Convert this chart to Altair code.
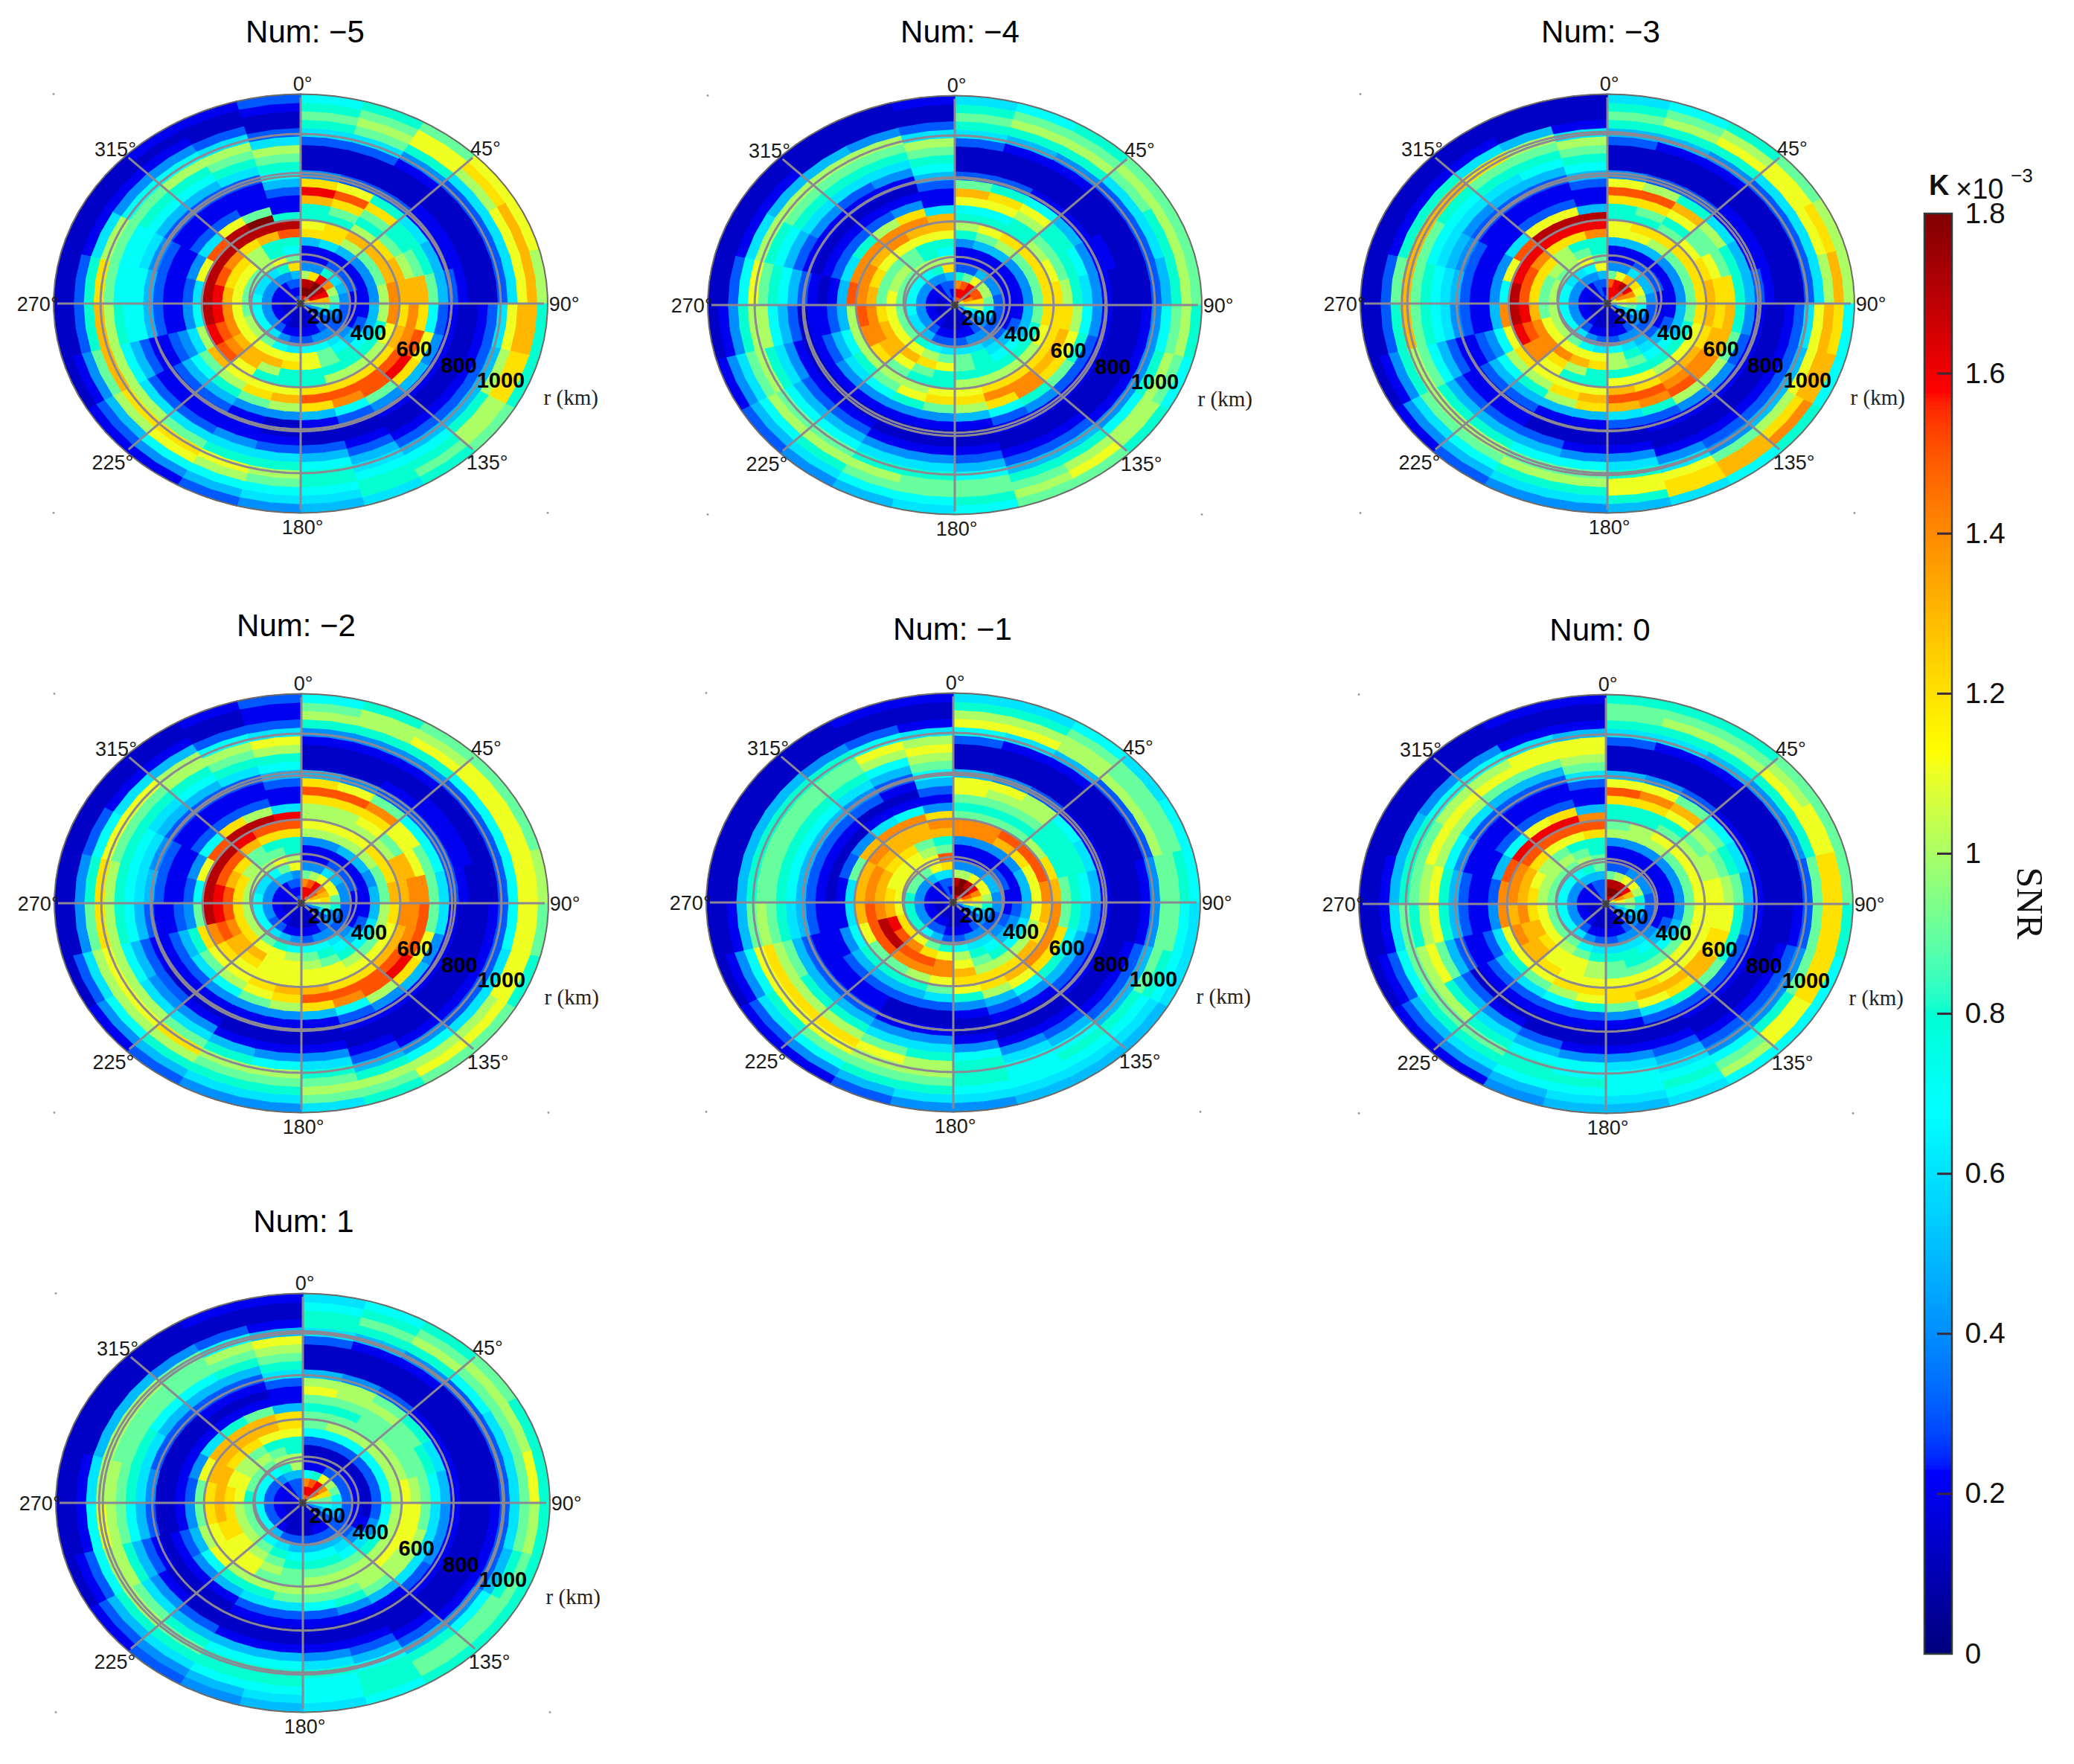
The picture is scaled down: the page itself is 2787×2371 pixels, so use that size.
import numpy as np
import pandas as pd
import altair as alt

alt.data_transformers.disable_max_rows()

# SNR samples, unit 0.1e-3, written as one base-19 digit per ring
# (0-9, a=10 ... i=18; digit 1 stands for the deep blue read as about 0.13).
# One row per 15 degree sector, from 0 degrees clockwise; each row holds 25 rings of 40 km,
# from the centre outwards.
NUM_M5 = ["giha 4225 cb88 dgc4 1113 68987", "gihc 4226 cc89 cfb3 1113 69a98", "fiig 8325 ada8 9c83 1112 48bb9", "fhhe 6324 9dc9 8862 2111 36acb",
          "egga 5324 9dda 9852 2111 36bdb", "add9 4224 aedd d953 2111 36bda", "6996 3225 aece c732 1123 6bdd8", "4454 3235 8bde fb42 1123 5acc8",
          "2233 3457 8acf gc52 1123 58aa9", "2223 4678 8acf f942 1123 57898", "1122 4799 8acf e731 1235 67886", "1112 37bb 88cf c521 1357 88765",
          "1112 36bc 88bd a411 2368 a9764", "1112 47bd a8bc 9422 2468 ba753", "2123 69bd dbba 8532 2369 cb742", "2124 7abd efd9 7532 236a ca532",
          "2124 7abe fga6 4322 357a d9421", "2124 79be gh74 2235 778a d8311", "2124 79bd gh63 2235 7779 c8311", "2224 69bc fhb4 2234 6779 a6211",
          "2224 69bc ehf6 3223 5789 74211", "2224 6aaa chhb 3223 578a 74212", "3234 8b88 dhi9 2223 689a 63112", "3235 c978 fh82 2357 89a6 31123"]
NUM_M4 = ["fge8 3224 8a87 bd93 1113 68986", "fgf9 3225 9b87 bc83 1112 58a97", "fggb 5225 ac88 ab72 1112 48a98", "egfa 4224 9ca9 8852 1111 369a9",
          "cefa 4224 9cb9 8742 2111 368a9", "acc9 3224 9cca 8642 1111 358a9", "7aa7 3225 9ccc a742 1112 479a8", "5766 3235 8bcd b832 1112 48a97",
          "2344 3357 8acd c932 1112 47aa8", "2233 4567 8ace e842 1123 58ab9", "1122 4688 8ace c732 1123 589a9", "1112 3699 8abc a521 1235 79987",
          "1112 369b 88bc 9421 1246 89976", "1112 37ac 98ab 8421 1246 8a975", "1123 58bd b9a9 7421 2357 9a864", "2124 69bd dca8 6421 2357 9a753",
          "2124 69bd eea7 5321 2468 a9642", "2124 79bc efa5 3221 357a a8421", "2124 79b9 def5 2123 5789 b7311", "2124 79a9 cee6 3212 3578 a6211",
          "2224 79a9 bde8 3212 4689 a5211", "2224 7a99 beea 3212 3689 a5111", "2334 8a88 bdec 4212 4689 a4111", "3235 ca78 bdd6 2235 789a 63112"]
NUM_M3 = ["ggf9 4225 bb88 cfb4 1113 58986", "gggb 4225 bc89 cfa3 1112 58a97", "fghd 6325 ac98 bd83 1112 48ba8", "efgc 5324 9cb9 9a62 2111 36bb9",
          "ceeb 5324 9ccb 9852 2111 36bca", "abca 4224 9cdc c853 2111 36ada", "6a97 3225 9cdc d842 1123 6bdc7", "4565 3235 8bcd d932 1123 5bdd7",
          "2234 3357 8bde ea42 1123 5ace8", "2223 4567 8ade fa42 1123 49dd7", "1122 4689 8bcf e832 1124 6bcc6", "1112 37aa 8bdf d631 1246 8bb85",
          "1112 36bc 88bd c521 1247 9a864", "1112 47bd a8bc a521 1357 9a864", "2123 69be cbba 8532 2358 a9753", "2124 7abe eeca 7532 2358 a9642",
          "2124 7abe fgb7 4322 3579 a8421", "2124 7a9d ghe5 2234 6789 d8311", "2124 7a9c fh74 2235 6789 d9311", "2124 7a9c fgb4 2234 5679 d8211",
          "2224 69ac egf6 2223 4678 d8211", "2224 6aaa cghb 3223 5689 c6211", "2334 7b98 cghb 3223 5789 a5111", "3235 b988 egh5 2235 789a 62111"]
NUM_M2 = ["gge9 4224 abaa cfc5 1112 48a97", "ggfa 4224 abaa cfb4 1112 48aa8", "fggb 6325 abab ce93 2112 48ba9", "efeb 5325 aca9 bb73 2211 37bb9",
          "cddb 4324 9cdd b973 2211 37bb9", "abc9 4225 9dde e963 2111 37bba", "6998 3225 acee f962 1112 37bb9", "4464 3236 abde fb42 1112 36bb8",
          "2234 3457 9bdf gc52 1112 36ab9", "1223 4678 abcf fa42 1112 47ab9", "1112 4789 bbcf e732 1123 58a98", "1112 379a bbdf c521 1246 89a96",
          "1112 47ab bbdc a421 1247 a9864", "1112 58bb bbcb 9421 1258 a9864", "2123 69bd cbba 7421 2469 ca853", "1123 7acd dcb9 6321 346a ba742",
          "1124 7ace fec8 5322 357a ba631", "2124 7acf gh94 3223 578a c9411", "2124 7acf gh73 2235 678a c8411", "2224 6acd fhb4 2234 6789 b7311",
          "2224 6aac fhf7 3223 5689 b6211", "2225 7a99 dghc 3223 578a a5211", "3235 9b98 cfha 3223 689a 73112", "3234 ba88 cfg6 2235 78ab 63223"]
NUM_M1 = ["hiha 4224 ee98 9bb5 1113 7ba86", "hiia 4224 ee98 9ab4 1112 6ba86", "gihb 4224 df98 9aa3 1112 5aa97", "fhgb 5324 cfa8 8872 1111 3a996",
          "dfeb 5325 bfc8 8862 1111 3a997", "bdca 4225 bed9 8752 1112 49987", "7ba8 4235 bde9 8642 1112 49976", "4565 3346 acec 7532 1123 59876",
          "2234 3457 adec 8532 1123 58765", "2223 4678 acdb 7421 1235 78765", "1122 4689 acca 5321 1246 77765", "1112 37ab dcb8 4211 2478 88764",
          "1112 38be eb96 3112 468a a9864", "1123 59cf ea85 3112 469b a9853", "1123 7bef e985 3223 58ac b9742", "1124 8cfh f985 3223 58ac b8632",
          "2124 8cgh fb74 2223 59ac b7421", "2124 8bde fd62 2235 689a 95211", "2124 8bcd ed62 1235 7899 85111", "2224 9bbd ed93 1235 7899 85111",
          "2224 9bbc ded4 1235 7899 85111", "2225 9bbc dde6 2134 6899 84111", "3336 bba9 dde7 2123 57ab 73112", "3236 cf98 dec4 2357 9aba 62112"]
NUM_0 = ["hih9 3224 a988 cfb5 1113 68998", "hiha 3224 aa88 ceb4 1112 68a98", "gihb 4224 ab98 bd93 1112 58a98", "fhgb 4224 9ba9 a972 1111 48ba9",
         "ceda 4224 9baa 9862 1111 48bb9", "9ba8 3224 9bbb a952 1111 39cc9", "6896 3224 9bbb b842 1112 39cc8", "4565 3235 9bbc c832 1123 49cc7",
         "2334 3457 9bbd d932 1123 48bb7", "2223 4678 9bbd c832 1123 479a7", "1122 4688 9bcd b631 1235 67876", "1112 3689 9bcc 9421 1246 77765",
         "1112 368a abcb 8321 1247 78765", "1112 479b bbca 7321 1357 88754", "1123 69ab bcb9 6321 2468 98642", "1124 79bc ddb8 5321 358a 98532",
         "1124 79bd deb6 3223 59ba 97321", "1124 79bc ede4 2235 8ba8 96211", "1224 79ac dee3 2235 8ba9 85211", "2224 79ab def5 2224 7ab9 85111",
         "2224 79aa cfg7 3223 6aba 74111", "2225 79a9 bfgb 3223 59ba 74111", "3335 8a98 bfgc 3223 59bb 62112", "3335 9988 cfe5 2236 9abb 52112"]
NUM_1 = ["ege7 2113 7998 9ba5 1113 68876", "fgf8 2113 7a98 9aa4 1112 58987", "fggb 3113 7a99 9a93 1112 48a98", "efea 3213 7aa9 9982 1111 379a9",
         "bcc9 3213 7aa9 9862 1111 369a8", "8997 3213 7aba 9752 1111 369b8", "6776 3213 7abb 9642 1112 369a8", "4455 3224 7abb a642 1112 35898",
         "2233 3346 8aba a632 1112 47998", "1122 3567 9aaa 9521 1123 58998", "1112 3578 9aa9 8421 1235 78887", "1111 3578 9aa9 7321 1246 87776",
         "1111 3578 99a9 6321 1257 88765", "1111 3689 a9a8 6321 1257 88754", "1112 579a bba8 5211 1358 98643", "1123 79ab bbb7 4211 2469 a8532",
         "1123 79ac cba5 3212 358a a7321", "1123 79ac dc94 2113 579a b7211", "1123 78bc dc93 2114 689a a6211", "2223 79bb ddb4 2113 6899 a5111",
         "2223 79aa cdd6 2113 5799 a5111", "2224 79a9 cdd8 2123 5799 94111", "3335 8a98 bdd9 2123 589a 73112", "3335 aa88 bcc5 2236 89ab 52112"]

RING_STEP = 40
SECTOR_STEP = 15
GRID_RINGS = [200, 400, 610, 810]
SPOKES = [0, 45, 90, 135, 180, 225, 270, 315]
ANGLE_LABELS = [("0°", 8, 1044), ("45°", 748, 736), ("90°", 1067, -8), ("135°", 755, -765),
                ("180°", 8, -1072), ("225°", -761, -765), ("270°", -1064, -8), ("315°", -750, 731)]
RADIUS_LABELS = [("200", 99, -65), ("400", 274, -142), ("600", 460, -219), ("800", 640, -297), ("1000", 810, -370)]
CORNER_DOTS = [(-1000, 1000), (-1000, -1000), (1000, -1000)]
CBAR_TICKS = [0, 0.2, 0.4, 0.6, 0.8, 1, 1.2, 1.4, 1.6, 1.8]

# panel: title, rows, centre (page px), title centre and baseline (page px), doubled grid rings (r, dx, dy)
PANELS = [
    ("Num: \u22125", NUM_M5, (404, 408), (410, 57), [(215, 8, 20), (612, 0, 12)]),
    ("Num: \u22124", NUM_M4, (1283, 410), (1290, 57), [(215, 8, 15), (615, 0, -10)]),
    ("Num: \u22123", NUM_M3, (2160, 408), (2151, 57), [(210, 8, 20), (615, 5, 8), (820, -12, 0)]),
    ("Num: \u22122", NUM_M2, (405, 1214), (398, 855), [(215, 8, 20), (615, 8, 12)]),
    ("Num: \u22121", NUM_M1, (1281, 1213), (1280, 860), [(205, 0, 12), (615, 5, 5)]),
    ("Num: 0", NUM_0, (2158, 1215), (2150, 861), [(205, 3, 10)]),
    ("Num: 1", NUM_1, (407, 2020), (408, 1656), [(210, 15, 10), (820, -5, 0)]),
]
CELLS = [(8, 8, 872, 792), (880, 8, 880, 792), (1760, 8, 820, 792),
         (8, 800, 872, 810), (880, 800, 880, 810), (1760, 800, 820, 810),
         (8, 1610, 872, 753)]
KM_X = 1000 / 332
KM_Y = 1000 / 281.5

CS = alt.Scale(domain=[0, 0.225, 0.675, 1.125, 1.575, 1.8],
               range=["#00007f", "#0000ff", "#00ffff", "#ffff00", "#ff0000", "#7f0000"])
GRID = "#8b8893"


def polar(r, deg):
    t = np.radians(deg)
    return round(float(r * np.sin(t)), 1), round(float(r * np.cos(t)), 1)


def cell_rows(rows):
    out = []
    for k, row in enumerate(rows):
        digits = row.replace(" ", "")
        for i, ch in enumerate(digits):
            d = int(ch, 19)
            v = 0.13 if d == 1 else d / 10
            a0, a1 = k * SECTOR_STEP, (k + 1) * SECTOR_STEP
            r0, r1 = i * RING_STEP, (i + 1) * RING_STEP
            pts = [(r0, a0), (r0, (a0 + a1) / 2), (r0, a1), (r1, a1), (r1, (a0 + a1) / 2), (r1, a0), (r0, a0)]
            for n, (r, a) in enumerate(pts):
                x, y = polar(r, a)
                out.append({"c": k * 100 + i, "n": n, "x": x, "y": y, "v": v})
    return pd.DataFrame(out)


def ellipse_rows(rings):
    out = []
    for j, (r, dx, dy) in enumerate(rings):
        for n, a in enumerate(range(0, 364, 4)):
            x, y = polar(r, a)
            out.append({"c": j, "n": n, "x": x + dx, "y": y + dy})
    return pd.DataFrame(out)


def panel(spec, cell):
    title, rows, (cx, cy), (tx, ty), extra = spec
    ox, oy, w, h = cell
    xs = alt.Scale(domain=[(ox - cx) * KM_X, (ox + w - cx) * KM_X], nice=False, zero=False)
    ys = alt.Scale(domain=[(cy - oy - h) * KM_Y, (cy - oy) * KM_Y], nice=False, zero=False)
    X = alt.X("x:Q", scale=xs, axis=None)
    Y = alt.Y("y:Q", scale=ys, axis=None)

    cells = alt.Chart(cell_rows(rows)).mark_line(strokeWidth=1.2).encode(
        x=X, y=Y, detail="c:N", order=alt.Order("n:Q"),
        fill=alt.Fill("v:Q", scale=CS, legend=None),
        stroke=alt.Stroke("v:Q", scale=CS, legend=None))

    rim = alt.Chart(ellipse_rows([(1000, 0, 0)])).mark_line(stroke="#6f6a66", strokeWidth=2).encode(
        x=X, y=Y, order=alt.Order("n:Q"))
    rings = alt.Chart(ellipse_rows([(r, 0, 0) for r in GRID_RINGS] + extra)).mark_line(
        stroke=GRID, strokeWidth=3).encode(x=X, y=Y, detail="c:N", order=alt.Order("n:Q"))

    spoke_df = pd.DataFrame([{"x": 0, "y": 0, "x2": polar(985, a)[0], "y2": polar(985, a)[1]} for a in SPOKES])
    spokes = alt.Chart(spoke_df).mark_rule(stroke=GRID, strokeWidth=3).encode(x=X, y=Y, x2="x2:Q", y2="y2:Q")

    star = alt.Chart(pd.DataFrame({"x": [0], "y": [0]})).mark_point(
        shape="M-1,-1L1,1M-1,1L1,-1M0,-1L0,1M-1,0L1,0", size=90, stroke="#222222", strokeWidth=2.5, filled=False
    ).encode(x=X, y=Y)

    ang = alt.Chart(pd.DataFrame(ANGLE_LABELS, columns=["t", "x", "y"])).mark_text(
        font="Liberation Sans", fontSize=27, color="#1a1a1a", align="center", baseline="middle"
    ).encode(x=X, y=Y, text="t:N")
    rad = alt.Chart(pd.DataFrame(RADIUS_LABELS, columns=["t", "x", "y"])).mark_text(
        font="Liberation Sans", fontWeight="bold", fontSize=29, color="#000000", align="center", baseline="middle"
    ).encode(x=X, y=Y, text="t:N")
    unit = alt.Chart(pd.DataFrame({"t": ["r (km)"], "x": [1094], "y": [-452]})).mark_text(
        font="Liberation Serif", fontSize=29, color="#222222", align="center", baseline="middle"
    ).encode(x=X, y=Y, text="t:N")
    dots = alt.Chart(pd.DataFrame(CORNER_DOTS, columns=["x", "y"])).mark_point(
        filled=True, size=8, color="#999999", opacity=1).encode(x=X, y=Y)
    ttl = alt.Chart(pd.DataFrame({"t": [title]})).mark_text(
        font="Liberation Sans", fontSize=42, color="#000000", align="center", baseline="alphabetic"
    ).encode(x=alt.value(tx - ox), y=alt.value(ty - oy), text="t:N")

    return alt.layer(cells, rim, rings, spokes, star, ang, rad, unit, dots, ttl).properties(width=w, height=h)


charts = [panel(s, c) for s, c in zip(PANELS, CELLS)]

# colour bar: 1.8 at page y 287, 0 at page y 2223; the chart runs from page y 8 to 2363
COL_H = 2355
K = (2223 - 287) / 1.8
BAR_DOMAIN = [(2223 - 2363) / K, 1.8 + (287 - 8) / K]
bar_scale = alt.Scale(domain=BAR_DOMAIN, nice=False, zero=False)
bar_axis = alt.Axis(values=CBAR_TICKS, orient="right", domain=False, ticks=False, grid=False, title=None,
                    labelFont="Liberation Sans", labelFontSize=39, labelColor="#111111", labelPadding=17,
                    labelFlush=False, labelOverlap=False, format="~g")
BY = alt.Y("v:Q", scale=bar_scale, axis=bar_axis)
bar_df = pd.DataFrame({"v": [i * 0.005 for i in range(360)]})
bar_df["v2"] = (bar_df["v"] + 0.008).clip(upper=1.8)
bar = alt.Chart(bar_df).mark_rect().encode(
    x=alt.value(6), x2=alt.value(43), y=BY,
    y2=alt.Y2("v2"), fill=alt.Fill("v:Q", scale=CS, legend=None))
frame = alt.Chart(pd.DataFrame({"v": [0], "v2": [1.8]})).mark_rect(
    fill=None, stroke="#2f3a3c", strokeWidth=2.5).encode(
    x=alt.value(6), x2=alt.value(43), y=BY, y2=alt.Y2("v2"))
ticks = alt.Chart(pd.DataFrame({"v": CBAR_TICKS[1:-1]})).mark_rule(stroke="#3a2a3a", strokeWidth=3).encode(
    x=alt.value(23), x2=alt.value(43), y=BY)


def note(t, x, y, size, **kw):
    return alt.Chart(pd.DataFrame({"t": [t]})).mark_text(
        fontSize=size, color="#111111", baseline="alphabetic", **kw
    ).encode(x=alt.value(x), y=alt.value(y), text="t:N")


notes = [
    note("K", 12, 254, 38, font="Liberation Sans", fontWeight="bold", align="left"),
    note("\u00d710", 48, 259, 38, font="Liberation Sans", align="left"),
    note("\u22123", 122, 237, 26, font="Liberation Sans", align="left"),
    note("SNR", 131, 1206, 50, font="Liberation Serif", align="center", angle=90),
]
right = alt.layer(bar, frame, ticks, *notes).properties(width=43, height=COL_H)

left = alt.vconcat(
    alt.hconcat(charts[0], charts[1], charts[2], spacing=0),
    alt.hconcat(charts[3], charts[4], charts[5], spacing=0),
    charts[6],
    spacing=0)

chart = alt.hconcat(left, right, spacing=0).resolve_scale(
    x="independent", y="independent"
).properties(padding=0, background="white").configure_view(stroke=None)

chart.save("out.html", embed_options={"renderer": "svg", "actions": False})
